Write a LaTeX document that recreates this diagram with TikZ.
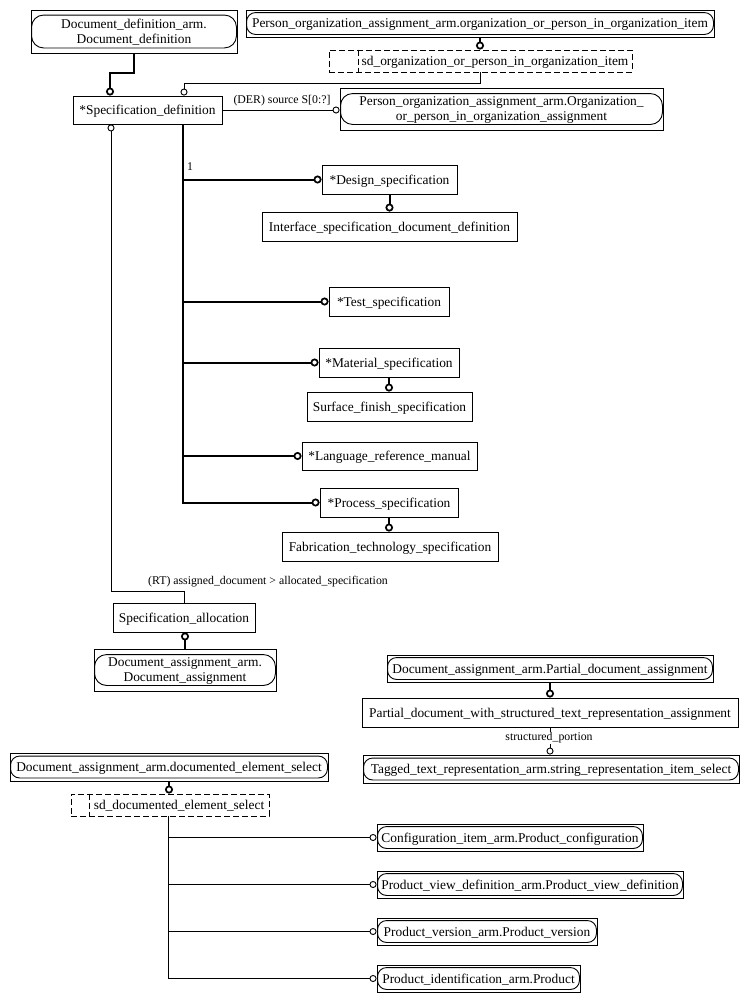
\documentclass[tikz,border=0pt]{standalone}
\usepackage{fontspec}
\setmainfont{Liberation Serif}
\usetikzlibrary{arrows.meta}
\newcommand\boxfont{\fontsize{13.4}{15}\selectfont}
\newcommand\lblfont{\fontsize{11.8}{13}\selectfont}
\newcommand\innerround[3]{\draw[line width=0.9pt, rounded corners=#2] ([xshift=1pt,yshift=-#3]#1.north west) rectangle ([xshift=-1pt,yshift=#3]#1.south east);}
\begin{document}
\begin{tikzpicture}[x=1pt,y=-1pt,
  box/.style={draw,line width=0.9pt,inner sep=0pt,font=\boxfont,align=center,text depth=0pt},
  dbox/.style={draw,line width=0.9pt,inner sep=0pt,dash pattern=on 6pt off 3pt},
  tn/.style={line width=0.9pt},
  tk/.style={line width=2pt},
  tipn/.style={-{Circle[open,length=7pt,width=7pt,line width=0.9pt]}},
  tipk/.style={-{Circle[open,length=8pt,width=8pt,line width=1.7pt]}},
  lbl/.style={font=\lblfont,inner sep=1pt}]
\useasboundingbox (0,0) rectangle (749,1002);

% ---- top area ----
\node[box,minimum width=206pt,minimum height=43pt] (dd) at (134,31.5) {Document\_definition\_arm.\\Document\_definition};
\innerround{dd}{12pt}{5.5pt}
\node[box,minimum width=468pt,minimum height=27pt] (poi) at (480,23.5) {Person\_organization\_assignment\_arm.organization\_or\_person\_in\_organization\_item};
\innerround{poi}{9pt}{3pt}
\node[dbox,minimum width=303pt,minimum height=22pt] (sdo) at (480.5,61) {};
\draw[line width=0.9pt,dash pattern=on 6pt off 3pt] (358,0 |- sdo.north) -- (358,0 |- sdo.south);
\node[font=\boxfont,inner sep=0pt,text depth=0pt] (sdot) at (495,61) {sd\_organization\_or\_person\_in\_organization\_item};

\node[box,minimum width=149pt,minimum height=28pt] (spec) at (147.5,110) {*Specification\_definition};
\node[box,minimum width=323pt,minimum height=42pt] (poa) at (501.5,109) {Person\_organization\_assignment\_arm.Organization\_\\or\_person\_in\_organization\_assignment};
\innerround{poa}{12pt}{6pt}

% ---- specialisations ----
\node[box,minimum width=135pt,minimum height=29pt] (des) at (389.5,179.5) {*Design\_specification};
\node[box,minimum width=255pt,minimum height=29pt] (isd) at (389.5,226.5) {Interface\_specification\_document\_definition};
\node[box,minimum width=120pt,minimum height=29pt] (test) at (389,301.5) {*Test\_specification};
\node[box,minimum width=140pt,minimum height=29pt] (mat) at (389,362.5) {*Material\_specification};
\node[box,minimum width=165pt,minimum height=29pt] (sfs) at (389.5,406.5) {Surface\_finish\_specification};
\node[box,minimum width=175pt,minimum height=28pt] (lrm) at (389.5,456) {*Language\_reference\_manual};
\node[box,minimum width=138pt,minimum height=29pt] (proc) at (389,502.5) {*Process\_specification};
\node[box,minimum width=216pt,minimum height=29pt] (fts) at (390,546.5) {Fabrication\_technology\_specification};

% ---- allocation ----
\node[box,minimum width=142pt,minimum height=29pt] (sa) at (184,617.5) {Specification\_allocation};
\node[box,minimum width=182pt,minimum height=42pt] (da) at (185,670) {Document\_assignment\_arm.\\Document\_assignment};
\innerround{da}{12pt}{6pt}

% ---- partial document ----
\node[box,minimum width=326pt,minimum height=27pt] (pda) at (550,668.5) {Document\_assignment\_arm.Partial\_document\_assignment};
\innerround{pda}{9pt}{3pt}
\node[box,minimum width=376pt,minimum height=29pt] (pdw) at (550,712.5) {Partial\_document\_with\_structured\_text\_representation\_assignment};
\node[box,minimum width=376pt,minimum height=28pt] (ttr) at (551,769) {Tagged\_text\_representation\_arm.string\_representation\_item\_select};
\innerround{ttr}{9pt}{3.5pt}

% ---- documented element select ----
\node[box,minimum width=318pt,minimum height=28pt] (dsel) at (169,767) {Document\_assignment\_arm.documented\_element\_select};
\innerround{dsel}{9pt}{3.5pt}
\node[dbox,minimum width=198pt,minimum height=22pt] (sdd) at (170,805) {};
\draw[line width=0.9pt,dash pattern=on 6pt off 3pt] (89,0 |- sdd.north) -- (89,0 |- sdd.south);
\node[font=\boxfont,inner sep=0pt,text depth=0pt] (sddt) at (179,805) {sd\_documented\_element\_select};

\node[box,minimum width=266pt,minimum height=27pt] (cfg) at (510,837.5) {Configuration\_item\_arm.Product\_configuration};
\innerround{cfg}{9pt}{3pt}
\node[box,minimum width=306pt,minimum height=27pt] (pvd) at (530,884.5) {Product\_view\_definition\_arm.Product\_view\_definition};
\innerround{pvd}{9pt}{3pt}
\node[box,minimum width=220pt,minimum height=27pt] (pv) at (487,931.5) {Product\_version\_arm.Product\_version};
\innerround{pv}{9pt}{3pt}
\node[box,minimum width=203pt,minimum height=27pt] (pid) at (478.5,978.5) {Product\_identification\_arm.Product};
\innerround{pid}{9pt}{3pt}

% ---- connectors ----
\draw[tk,tipk] (dd.south) -- ++(0,19.5) -| (110,0 |- spec.north);
\draw[tk,tipk] (poi.south) -- (poi.south |- sdo.north);
\draw[tn,tipn] (sdo.south) -- ++(0,11) -| (184,0 |- spec.north);
\draw[tn,tipn] (spec.east) -- (spec.east -| poa.west);
\node[lbl] (derl) at (282,101) {(DER) source S[0:?]};

\draw[tk,tipk] (183,0 |- spec.south) -- (183,0 |- proc.west) -- (proc.west);
\foreach \n in {des,test,mat,lrm} {\draw[tk,tipk] (183,0 |- \n.west) -- (\n.west);}
\node[lbl] (one) at (190,167) {1};
\draw[tk,tipk] (des.south) -- (des.south |- isd.north);
\draw[tk,tipk] (mat.south) -- (mat.south |- sfs.north);
\draw[tk,tipk] (proc.south) -- (proc.south |- fts.north);

\draw[tn,tipn] (sa.north) -- ++(0,-11) -| (111,0 |- spec.south);
\node[lbl] (rtl) at (268,582) {(RT) assigned\_document > allocated\_specification};
\draw[tk,tipk] (da.north) -- (da.north |- sa.south);

\draw[tk,tipk] (pda.south) -- (pda.south |- pdw.north);
\draw[tn,tipn] (pdw.south) -- (pdw.south |- ttr.north);
\node[lbl,fill=white,inner sep=0.5pt] (spl) at (549,738) {structured\_portion};

\draw[tk,tipk] (dsel.south) -- (dsel.south |- sdd.north);
\draw[tn,tipn] (168,0 |- sdd.south) -- (168,0 |- pid.west) -- (pid.west);
\foreach \n in {cfg,pvd,pv} {\draw[tn,tipn] (168,0 |- \n.west) -- (\n.west);}
\end{tikzpicture}
\end{document}
